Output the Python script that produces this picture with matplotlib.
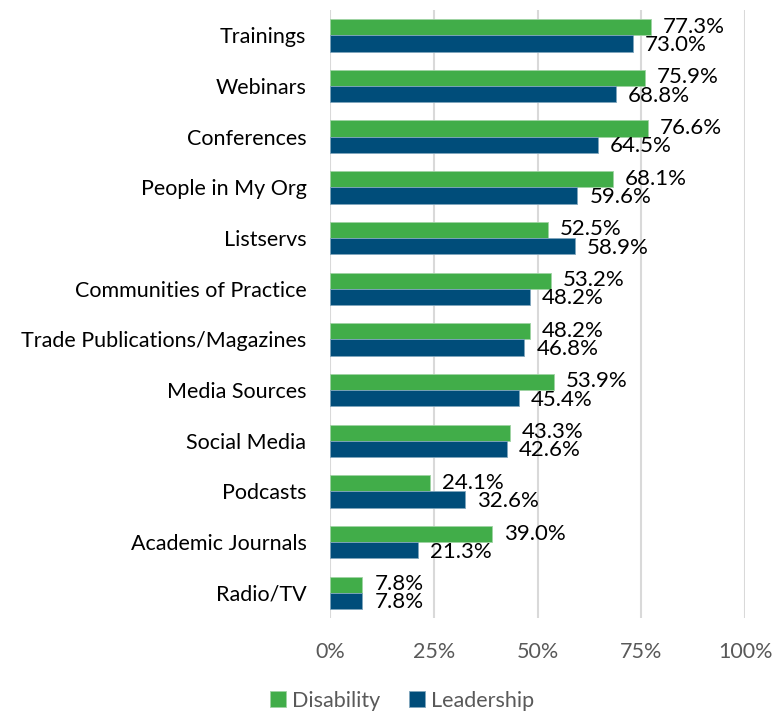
import matplotlib
matplotlib.use("Agg")
import matplotlib.pyplot as plt
import numpy as np

categories = ["Trainings", "Webinars", "Conferences", "People in My Org", "Listservs",
              "Communities of Practice", "Trade Publications/Magazines", "Media Sources",
              "Social Media", "Podcasts", "Academic Journals", "Radio/TV"]
disability = [77.3, 75.9, 76.6, 68.1, 52.5, 53.2, 48.2, 53.9, 43.3, 24.1, 39.0, 7.8]
leadership = [73.0, 68.8, 64.5, 59.6, 58.9, 48.2, 46.8, 45.4, 42.6, 32.6, 21.3, 7.8]
xticks = [0, 25, 50, 75, 100]
xticklabels = ["0%", "25%", "50%", "75%", "100%"]

green = "#41AD49"
blue = "#004D7A"

plt.rcParams['font.family'] = ['Lato', 'DejaVu Sans']

fig = plt.figure(figsize=(7.73, 7.13), dpi=100)
ax = fig.add_axes([0.427, 0.133, 0.537, 0.853])

y = np.arange(len(categories))
h = 0.32
ax.barh(y - h/2, disability, height=h, color=green, edgecolor="#9fd3a3", linewidth=0.6, label="Disability", zorder=3)
ax.barh(y + h/2, leadership, height=h, color=blue, edgecolor="#7fa6bd", linewidth=0.6, label="Leadership", zorder=3)

for i, (d, l) in enumerate(zip(disability, leadership)):
    ax.annotate(f"{d:.1f}%", (d, i - h/2 - 0.01), xytext=(12, 0), textcoords="offset pixels",
                va="center", ha="left", fontsize=16, color="#000000", zorder=4)
    ax.annotate(f"{l:.1f}%", (l, i + h/2 + 0.03), xytext=(12, 0), textcoords="offset pixels",
                va="center", ha="left", fontsize=16, color="#000000", zorder=4)

ax.set_ylim(len(categories) - 0.5, -0.5)
ax.set_xlim(0, 100)
ax.set_yticks(y)
ax.set_yticklabels(categories, fontsize=15.5, color="#000000")
ax.set_xticks(xticks)
ax.set_xticklabels(xticklabels, fontsize=15.5, color="#595959")
ax.tick_params(axis="both", length=0)
ax.tick_params(axis="y", pad=17)
ax.tick_params(axis="x", pad=17)
ax.grid(axis="x", color="#D9D9D9", linewidth=1.5, zorder=0)
for s in ax.spines.values():
    s.set_visible(False)

fig.legend(handles=ax.get_legend_handles_labels()[0], labels=["Disability", "Leadership"],
           loc="lower center", bbox_to_anchor=(0.52, -0.024), ncol=2, frameon=False,
           fontsize=15.5, handlelength=0.75, handleheight=0.75, handletextpad=0.3, columnspacing=1.3,
           labelcolor="#595959")

fig.savefig("out.png", dpi=100)
